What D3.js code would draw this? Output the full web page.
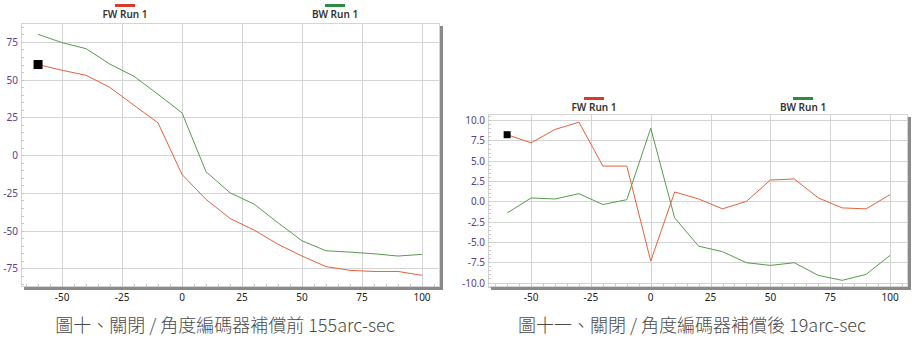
<!DOCTYPE html>
<html><head><meta charset="utf-8">
<script src="https://cdn.jsdelivr.net/npm/d3@7"></script>
<style>
html,body{margin:0;padding:0;background:#fff;}
svg{display:block;}
</style></head>
<body>
<svg id="c" width="914" height="338"></svg>
<script>
// ---- data ----
const positions = [-60,-50,-40,-30,-20,-10,0,10,20,30,40,50,60,70,80,90,100];
const seriesNames = ["FW Run 1","BW Run 1"];
const fwBefore = [60,56.2,52.9,44.8,33,21.4,-12.8,-29.3,-41.9,-49.6,-59,-66.8,-73.8,-76.3,-77,-77,-79.6];
const bwBefore = [80,74.5,70.5,60.2,52.2,40.3,28,-11,-24.9,-32.4,-44.8,-56.7,-63.3,-64.2,-65.3,-66.8,-65.7];
const fwAfter = [8.2,7.2,8.85,9.74,4.34,4.34,-7.36,1.15,0.29,-0.93,0.0,2.62,2.75,0.42,-0.81,-0.93,0.82];
const bwAfter = [-1.43,0.41,0.29,0.94,-0.4,0.2,9.0,-2.04,-5.52,-6.2,-7.56,-7.89,-7.56,-9.12,-9.73,-9.0,-6.66];
const xTicks = [-50,-25,0,25,50,75,100];
const yTicksBefore = [-75,-50,-25,0,25,50,75];
const yTicksAfter = [-10,-7.5,-5,-2.5,0,2.5,5,7.5,10];
const captions = ["圖十、關閉 / 角度編碼器補償前 155arc-sec","圖十一、關閉 / 角度編碼器補償後 19arc-sec"];

const svg = d3.select("#c");
const colors = {fw:"#e8603c", bw:"#5a9a50", fwLeg:"#d93a2b", bwLeg:"#2e8b40"};

function drawChart(opt){
  const g = svg.append("g");
  const x = d3.scaleLinear().domain(opt.xDom).range([opt.left, opt.right]);
  const y = d3.scaleLinear().domain(opt.yDom).range([opt.bottom, opt.top]);
  // shadow bars
  g.append("rect").attr("x", opt.left+3).attr("y", opt.bottom).attr("width", opt.right-opt.left).attr("height", 3).attr("fill", "#8a8a8a");
  g.append("rect").attr("x", opt.right).attr("y", opt.top+3).attr("width", 3).attr("height", opt.bottom-opt.top).attr("fill", "#8a8a8a");
  // frame
  g.append("rect").attr("x", opt.left+0.5).attr("y", opt.top+0.5).attr("width", opt.right-opt.left-1).attr("height", opt.bottom-opt.top-1)
    .attr("fill","none").attr("stroke","#d4d4d4");
  // grid
  g.selectAll(".vg").data(xTicks).enter().append("line")
    .attr("x1", d=>Math.round(x(d))+0.5).attr("x2", d=>Math.round(x(d))+0.5)
    .attr("y1", opt.top).attr("y2", opt.bottom).attr("stroke","#d4d4d4");
  g.selectAll(".hg").data(opt.yTicks).enter().append("line")
    .attr("y1", d=>Math.round(y(d))+0.5).attr("y2", d=>Math.round(y(d))+0.5)
    .attr("x1", opt.left).attr("x2", opt.right).attr("stroke","#d4d4d4");
  // minor ticks
  const xMinor = d3.range(-65, 106, 5);
  g.selectAll(".xm").data(xMinor).enter().append("line")
    .attr("x1", d=>Math.round(x(d))+0.5).attr("x2", d=>Math.round(x(d))+0.5)
    .attr("y1", opt.bottom-3).attr("y2", opt.bottom).attr("stroke","#c8c8c8");
  const yMinor = d3.range(Math.ceil(opt.yDom[0]/opt.yMinorStep)*opt.yMinorStep, opt.yDom[1], opt.yMinorStep);
  g.selectAll(".ym").data(yMinor).enter().append("line")
    .attr("y1", d=>Math.round(y(d))+0.5).attr("y2", d=>Math.round(y(d))+0.5)
    .attr("x1", opt.left).attr("x2", opt.left+3).attr("stroke","#c8c8c8");
  // tick labels
  g.selectAll(".xl").data(xTicks).enter().append("text")
    .attr("x", d=>x(d)).attr("y", 301).attr("text-anchor","middle")
    .attr("font-family","Noto Sans").attr("font-size", 10).attr("fill","#222").text(d=>d);
  g.selectAll(".yl").data(opt.yTicks).enter().append("text")
    .attr("x", opt.left-3).attr("y", d=>y(d)+4).attr("text-anchor","end")
    .attr("font-family","Noto Sans").attr("font-size", opt.yFont).attr("fill","#5b3e8e").text(opt.yFmt);
  // lines
  const line = d3.line().x((d,i)=>x(positions[i])).y(d=>y(d));
  g.append("path").datum(opt.bw).attr("d", line).attr("fill","none").attr("stroke", colors.bw).attr("stroke-width",1);
  g.append("path").datum(opt.fw).attr("d", line).attr("fill","none").attr("stroke", colors.fw).attr("stroke-width",1);
  // marker
  g.append("rect").attr("x", x(positions[0])-opt.mk/2).attr("y", y(opt.fw[0])-opt.mk/2)
    .attr("width", opt.mk).attr("height", opt.mk).attr("fill","#000");
  // legend
  const legCols = [colors.fwLeg, colors.bwLeg];
  seriesNames.forEach((n,i)=>{
    const cx = opt.legX[i];
    g.append("rect").attr("x", cx-10).attr("y", opt.legY-10).attr("width", 20).attr("height", 3).attr("fill", legCols[i]);
    g.append("text").attr("x", cx).attr("y", opt.legY+4).attr("text-anchor","middle")
      .attr("font-family","Noto Sans").attr("font-size", 10).attr("font-weight", 600).attr("fill","#333").text(n);
  });
  // caption
  svg.append("text").attr("x", opt.capX).attr("y", 332).attr("text-anchor","middle")
    .attr("font-family","Noto Sans CJK TC").attr("font-weight",300).attr("font-size", 18).attr("fill","#4a4a4a").text(opt.caption);
}

drawChart({xDom:[-67.1,107.5], yDom:[-87.3,87.5], left:21, right:440, top:23, bottom:287,
  yTicks:yTicksBefore, yMinorStep:5, yFmt:d=>d, yFont:10, fw:fwBefore, bw:bwBefore, mk:9,
  legX:[125,335], legY:14, caption:captions[0], capX:225});
drawChart({xDom:[-68,107.5], yDom:[-10.55,10.75], left:488, right:908, top:114, bottom:287,
  yTicks:yTicksAfter, yMinorStep:0.5, yFmt:d=>d.toFixed(1), yFont:10, fw:fwAfter, bw:bwAfter, mk:7,
  legX:[594,803], legY:107, caption:captions[1], capX:692});
</script>
</body></html>
